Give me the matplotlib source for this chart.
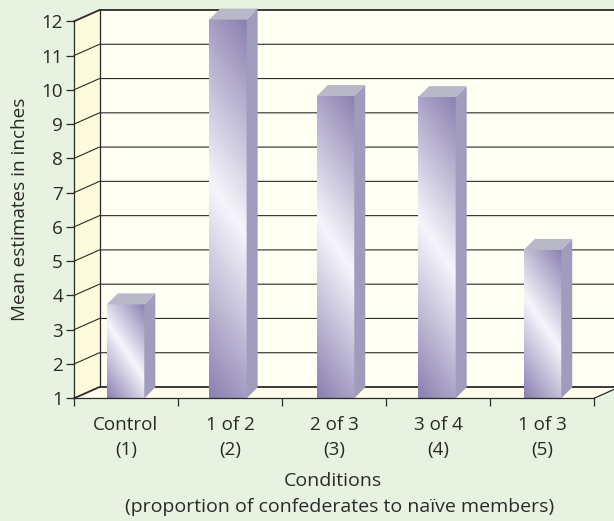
import numpy as np
import matplotlib
matplotlib.use('Agg')
import matplotlib.pyplot as plt
from matplotlib.patches import Polygon
from matplotlib.colors import LinearSegmentedColormap

plt.rcParams['font.family'] = ['Open Sans', 'DejaVu Sans']

# values
categories = ['Control\n(1)', '1 of 2\n(2)', '2 of 3\n(3)', '3 of 4\n(4)', '1 of 3\n(5)']
means = [3.74, 12.05, 9.82, 9.79, 5.33]
bar_centres = [0.496, 1.48, 2.515, 3.49, 4.505]
y_ticks = list(range(1, 13))

W, H = 614, 521
BG = '#e8f2e0'
INK = '#2b2a29'
FS = 13.6

fig = plt.figure(figsize=(W / 100, H / 100), dpi=100, facecolor=BG)
# front plane of the fake 3d box, in pixels
left, right, bottom, top = 74, 594, 398.3, 21.3
ax = fig.add_axes([left / W, 1 - bottom / H, (right - left) / W, (bottom - top) / H])
ax.patch.set_visible(False)

unit_x = (right - left) / 5
unit_y = (bottom - top) / 11
wall_dx = 25.5 / unit_x
wall_dy = 11.3 / unit_y
bar_dx = 11 / unit_x
bar_dy = 11 / unit_y
ymin, ymax = 1, 12
nbars = len(categories)

# walls and floor
ax.add_patch(Polygon([(0, ymin), (wall_dx, ymin + wall_dy), (wall_dx, ymax + wall_dy), (0, ymax)],
                     fc='#fefbdc', ec='none', clip_on=False, zorder=1))
ax.add_patch(Polygon([(wall_dx, ymin + wall_dy), (nbars + wall_dx, ymin + wall_dy),
                      (nbars + wall_dx, ymax + wall_dy), (wall_dx, ymax + wall_dy)],
                     fc='#fefff2', ec='none', clip_on=False, zorder=1))
ax.add_patch(Polygon([(0, ymin), (nbars, ymin), (nbars + wall_dx, ymin + wall_dy), (wall_dx, ymin + wall_dy)],
                     fc='#fffbea', ec='none', clip_on=False, zorder=1))

# grid lines running round the walls
for v in y_ticks:
    lw = 1.3 if v in (ymin, ymax) else 0.8
    ax.plot([0, wall_dx, nbars + wall_dx], [v, v + wall_dy, v + wall_dy], color=INK, lw=lw,
            clip_on=False, zorder=2, solid_joinstyle='miter')
ax.plot([wall_dx, wall_dx], [ymin + wall_dy, ymax + wall_dy], color=INK, lw=0.9, clip_on=False, zorder=2)
ax.plot([nbars, nbars + wall_dx], [ymin, ymin + wall_dy], color=INK, lw=0.9, clip_on=False, zorder=2)

cmap = LinearSegmentedColormap.from_list('bar', ['#8a7fb0', '#f6f5fb', '#8a7fb0'])
width = 0.36
bars = ax.bar(bar_centres, np.array(means) - 1, width, bottom=1, color='#a8a3c6', zorder=3)

nx, ny = 0.83, 0.55
for bar, v in zip(bars, means):
    x0 = bar.get_x()
    x1 = x0 + width
    # shine runs at a fixed angle, dark in the bottom-left and top-right corners
    w_px = int(width * unit_x)
    h_px = int((v - 1) * unit_y)
    px, py = np.meshgrid(np.arange(w_px) - w_px / 2, np.arange(h_px) - h_px / 2)
    grad = 0.5 + (px * nx - py * ny) / (w_px * nx + h_px * ny)
    # image row 0 is the top of the bar
    ax.imshow(np.clip(grad, 0, 1), extent=(x0, x1, 1, v), origin='upper', aspect='auto', cmap=cmap,
              vmin=0, vmax=1, zorder=3.1, clip_on=False)
    ax.add_patch(Polygon([(x1, 1), (x1 + bar_dx, 1 + bar_dy), (x1 + bar_dx, v + bar_dy), (x1, v)],
                         fc='#9f9cbe', ec='none', clip_on=False, zorder=3.2))
    ax.add_patch(Polygon([(x0, v), (x1, v), (x1 + bar_dx, v + bar_dy), (x0 + bar_dx, v + bar_dy)],
                         fc='#b9b8c9', ec='none', clip_on=False, zorder=3.2))

ax.set_xlim(0, nbars)
ax.set_ylim(ymin, ymax)

for s in ('top', 'right'):
    ax.spines[s].set_visible(False)
for s in ('left', 'bottom'):
    ax.spines[s].set_color(INK)
    ax.spines[s].set_linewidth(0.9)
    ax.spines[s].set_zorder(5)

ax.set_yticks(y_ticks)
ax.set_xticks(np.arange(nbars + 1))
ax.set_xticklabels([])
ax.set_xticks(np.arange(nbars) + 0.5, categories, minor=True, linespacing=1.5)
ax.tick_params(axis='x', which='minor', length=0, pad=13, labelsize=FS, labelcolor=INK)
ax.tick_params(axis='x', which='major', length=6, width=0.9, color=INK)
ax.tick_params(axis='y', length=6, width=0.9, color=INK, pad=2, labelsize=FS, labelcolor=INK)

ax.set_ylabel('Mean estimates in inches', fontsize=FS, color=INK, labelpad=9)

# the two caption lines are not centred on each other in the original
fig.text(333 / W, 1 - 481 / H, 'Conditions', fontsize=14, color=INK, ha='center', va='center')
fig.text(340 / W, 1 - 507 / H, '(proportion of confederates to naïve members)', fontsize=14, color=INK,
         ha='center', va='center')

fig.savefig('out.png', dpi=100, facecolor=BG)
